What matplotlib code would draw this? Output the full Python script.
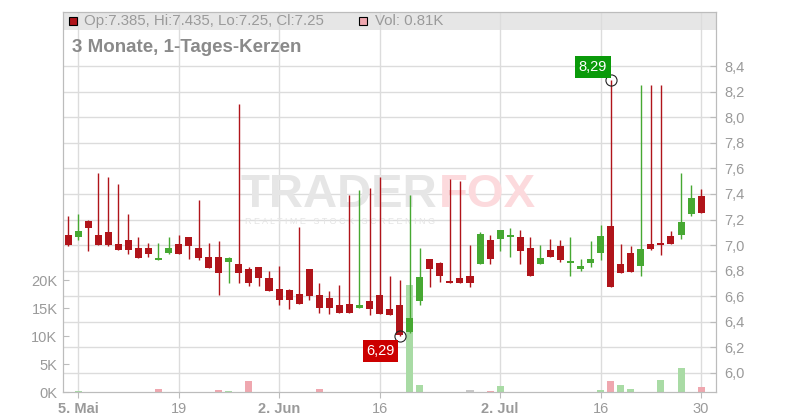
import matplotlib
matplotlib.use("Agg")
import matplotlib.pyplot as plt
import matplotlib.transforms as mtransforms
from matplotlib.patches import Rectangle

plt.rcParams['font.family'] = ['Liberation Sans', 'DejaVu Sans']

# daily candles, 2 May .. 30 Jul (trading days)
opens = [7.08, 7.06, 7.19, 7.08, 7.10, 7.01, 7.04, 6.98, 6.98, 6.88,
         6.94, 7.01, 7.06, 6.98, 6.91, 6.91, 6.87, 6.85, 6.81, 6.83,
         6.74, 6.66, 6.65, 6.62, 6.81, 6.61, 6.59, 6.53, 6.54, 6.51,
         6.56, 6.61, 6.50, 6.53, 6.32, 6.56, 6.89, 6.86, 6.72, 6.74,
         6.76, 6.85, 7.04, 7.05, 7.063, 7.06, 6.98, 6.85, 6.96, 6.99,
         6.86, 6.81, 6.86, 6.94, 7.15, 6.85, 6.94, 6.84, 7.01, 7.01,
         7.07, 7.08, 7.24, 7.385]
highs = [7.23, 7.24, 7.20, 7.56, 7.53, 7.48, 7.24, 7.06, 7.02, 7.02,
         7.06, 7.08, 7.06, 7.35, 7.02, 7.03, 6.91, 8.10, 6.83, 6.83,
         6.80, 6.84, 6.66, 7.14, 6.81, 6.70, 6.64, 6.69, 7.39, 7.43,
         7.45, 7.53, 6.76, 6.73, 7.39, 6.98, 6.89, 6.87, 7.52, 7.50,
         7.00, 7.10, 7.08, 7.12, 7.13, 7.12, 7.06, 7.00, 7.05, 7.04,
         7.06, 6.89, 7.03, 7.16, 8.29, 7.01, 6.99, 8.25, 8.25, 8.25,
         7.11, 7.56, 7.47, 7.435]
lows = [6.99, 7.04, 6.95, 7.00, 6.99, 6.96, 6.93, 6.90, 6.91, 6.88,
        6.93, 6.93, 6.89, 6.88, 6.82, 6.61, 6.70, 6.70, 6.68, 6.68,
        6.64, 6.53, 6.50, 6.54, 6.57, 6.47, 6.46, 6.47, 6.47, 6.51,
        6.45, 6.46, 6.45, 6.29, 6.31, 6.53, 6.67, 6.71, 6.70, 6.70,
        6.67, 6.85, 6.85, 6.95, 6.91, 6.85, 6.76, 6.85, 6.91, 6.87,
        6.76, 6.80, 6.83, 6.88, 6.67, 6.78, 6.79, 6.76, 6.96, 6.92,
        7.01, 7.05, 7.23, 7.25]
closes = [7.00, 7.11, 7.13, 7.00, 7.00, 6.96, 6.96, 6.90, 6.93, 6.90,
          6.98, 6.93, 6.99, 6.90, 6.82, 6.78, 6.90, 6.78, 6.70, 6.74,
          6.64, 6.57, 6.57, 6.54, 6.60, 6.51, 6.51, 6.47, 6.47, 6.53,
          6.50, 6.46, 6.45, 6.30, 6.43, 6.75, 6.81, 6.76, 6.70, 6.70,
          6.70, 7.09, 6.89, 7.12, 7.068, 6.95, 6.76, 6.90, 6.91, 6.88,
          6.87, 6.84, 6.89, 7.07, 6.67, 6.78, 6.79, 6.97, 6.97, 7.00,
          7.01, 7.18, 7.37, 7.25]
volumes_k = [0, 0.15, 0, 0, 0, 0, 0, 0, 0, 0.5,
             0, 0, 0, 0, 0, 0.35, 0.15, 0, 2.0, 0,
             0, 0, 0, 0, 0, 0.5, 0, 0, 0, 0,
             0, 0, 0, 0, 19.1, 1.25, 0, 0, 0, 0,
             0.35, 0, 0.15, 1.1, 0, 0, 0, 0, 0, 0,
             0, 0, 0, 0.35, 2.0, 1.25, 0.5, 0, 0, 2.1,
             0, 4.3, 0, 0.81]

tick_pos = [1, 11, 21, 31, 43, 53, 63]
tick_labels = ["5. Mai", "19", "2. Jun", "16", "2. Jul", "16", "30"]
bold_labels = ["5. Mai", "2. Jun", "2. Jul"]
price_ticks = [6.0, 6.2, 6.4, 6.6, 6.8, 7.0, 7.2, 7.4, 7.6, 7.8, 8.0, 8.2, 8.4]
vol_ticks = [0, 5, 10, 15, 20]

RED = '#b0141a'
GREEN = '#46a832'
GREY_TXT = '#9a9a9a'
SPINE = '#bcbcbc'
GRID = '#dcdcdc'

fig = plt.figure(figsize=(8, 4.2), dpi=100)
ax = fig.add_axes([63 / 800, 28 / 420, 653 / 800, 380 / 420])
axp = ax.twinx()

n = len(closes)
x = list(range(n))
ax.set_xlim(-0.5, 64.48)
ax.set_ylim(0, 67.86)
axp.set_ylim(5.8514, 8.8225)

# header band + grid (behind everything)
ax.add_patch(Rectangle((0, 1 - 18 / 380), 1, 18 / 380, transform=ax.transAxes,
                       fc='#e6e6e6', ec='none', zorder=0.2))
ax.vlines(tick_pos, 0, 1, transform=mtransforms.blended_transform_factory(ax.transData, ax.transAxes),
          color=GRID, lw=1, zorder=0.5)
ax.hlines(price_ticks, 0, 1, transform=mtransforms.blended_transform_factory(ax.transAxes, axp.transData),
          color=GRID, lw=1, zorder=0.5)

# watermark
ax.text(437 / 800, 1 - 207 / 420, "TRADER", transform=fig.transFigure, ha='right', va='baseline',
        fontsize=34, fontweight='heavy', color='#e6e6e6', zorder=0.6)
ax.text(439 / 800, 1 - 207 / 420, "FOX", transform=fig.transFigure, ha='left', va='baseline',
        fontsize=34, fontweight='heavy', color='#fcdadd', zorder=0.6)
ax.text(340 / 800, 1 - 221 / 420, "R E A L T I M E   S T O C K   S C R E E N I N G", transform=fig.transFigure,
        ha='center', va='center', fontsize=6.5, color='#e4e4e4', zorder=0.6)

# volume bars
vol_colors = []
for i in range(n):
    if i == 0 or closes[i] == closes[i - 1]:
        vol_colors.append('#c8c8c8')
    elif closes[i] > closes[i - 1]:
        vol_colors.append('#a9dba5')
    else:
        vol_colors.append('#efa7af')
ax.bar(x, volumes_k, width=0.7, color=vol_colors, zorder=1)

# candles
for i in range(n):
    col = GREEN if closes[i] > opens[i] else RED
    axp.vlines(i, lows[i], highs[i], color=col, lw=1.0, zorder=2)
    lo = min(opens[i], closes[i])
    h = max(abs(closes[i] - opens[i]), 0.014)
    axp.bar(i, h, bottom=lo, width=0.7, color=col, zorder=3)

# extremes
i_hi = highs.index(max(highs))
i_lo = lows.index(min(lows))
axp.plot([i_hi, i_lo], [highs[i_hi], lows[i_lo]], 'o', mfc='none', mec='#222', ms=8, mew=0.8, zorder=4)
axp.annotate(f"{highs[i_hi]:.2f}".replace('.', ','), (i_hi, highs[i_hi]), xytext=(-18, 13),
             textcoords='offset pixels', ha='center', va='center', fontsize=10.5, color='white',
             bbox=dict(boxstyle='square,pad=0.25', fc='#0a9a0a', ec='none'), zorder=5)
axp.annotate(f"{lows[i_lo]:.2f}".replace('.', ','), (i_lo, lows[i_lo]), xytext=(-19, -15),
             textcoords='offset pixels', ha='center', va='center', fontsize=10.5, color='white',
             bbox=dict(boxstyle='square,pad=0.25', fc='#cc0000', ec='none'), zorder=5)

# axes styling
ax.set_xticks(tick_pos)
ax.set_xticklabels(tick_labels)
for lab in ax.get_xticklabels():
    if lab.get_text() in bold_labels:
        lab.set_fontweight('bold')
ax.set_yticks(vol_ticks)
ax.set_yticklabels([f"{v}K" for v in vol_ticks])
axp.set_yticks(price_ticks)
axp.set_yticklabels([f"{p:.1f}".replace('.', ',') for p in price_ticks])

ax.tick_params(axis='x', colors=SPINE, labelcolor=GREY_TXT, labelsize=10.5, length=4, pad=3)
ax.tick_params(axis='y', direction='in', colors=SPINE, labelcolor=GREY_TXT, labelsize=10.5, length=4, pad=4)
axp.tick_params(axis='y', direction='in', colors=SPINE, labelcolor=GREY_TXT, labelsize=10.5, length=4, pad=6)
for a in (ax, axp):
    for s in a.spines.values():
        s.set_color(SPINE)

# header legend
ax.add_patch(Rectangle((69 / 800, 1 - 25 / 420), 8 / 800, 8 / 420, transform=fig.transFigure,
                       fc=RED, ec='black', lw=0.8, clip_on=False, zorder=5))
ax.text(84 / 800, 1 - 21 / 420, f"Op:{opens[-1]}, Hi:{highs[-1]}, Lo:{lows[-1]}, Cl:{closes[-1]}",
        transform=fig.transFigure, va='center', fontsize=10.8, color=GREY_TXT, zorder=5)
ax.add_patch(Rectangle((359 / 800, 1 - 25 / 420), 8 / 800, 8 / 420, transform=fig.transFigure,
                       fc='#efa7af', ec='black', lw=0.8, clip_on=False, zorder=5))
ax.text(375 / 800, 1 - 21 / 420, f"Vol: {volumes_k[-1]}K", transform=fig.transFigure, va='center',
        fontsize=10.8, color=GREY_TXT, zorder=5)
ax.text(72 / 800, 1 - 47 / 420, "3 Monate, 1-Tages-Kerzen", transform=fig.transFigure, va='center',
        fontsize=13.5, fontweight='bold', color='#8a8a8a', zorder=5)

fig.savefig("out.png", dpi=100)
